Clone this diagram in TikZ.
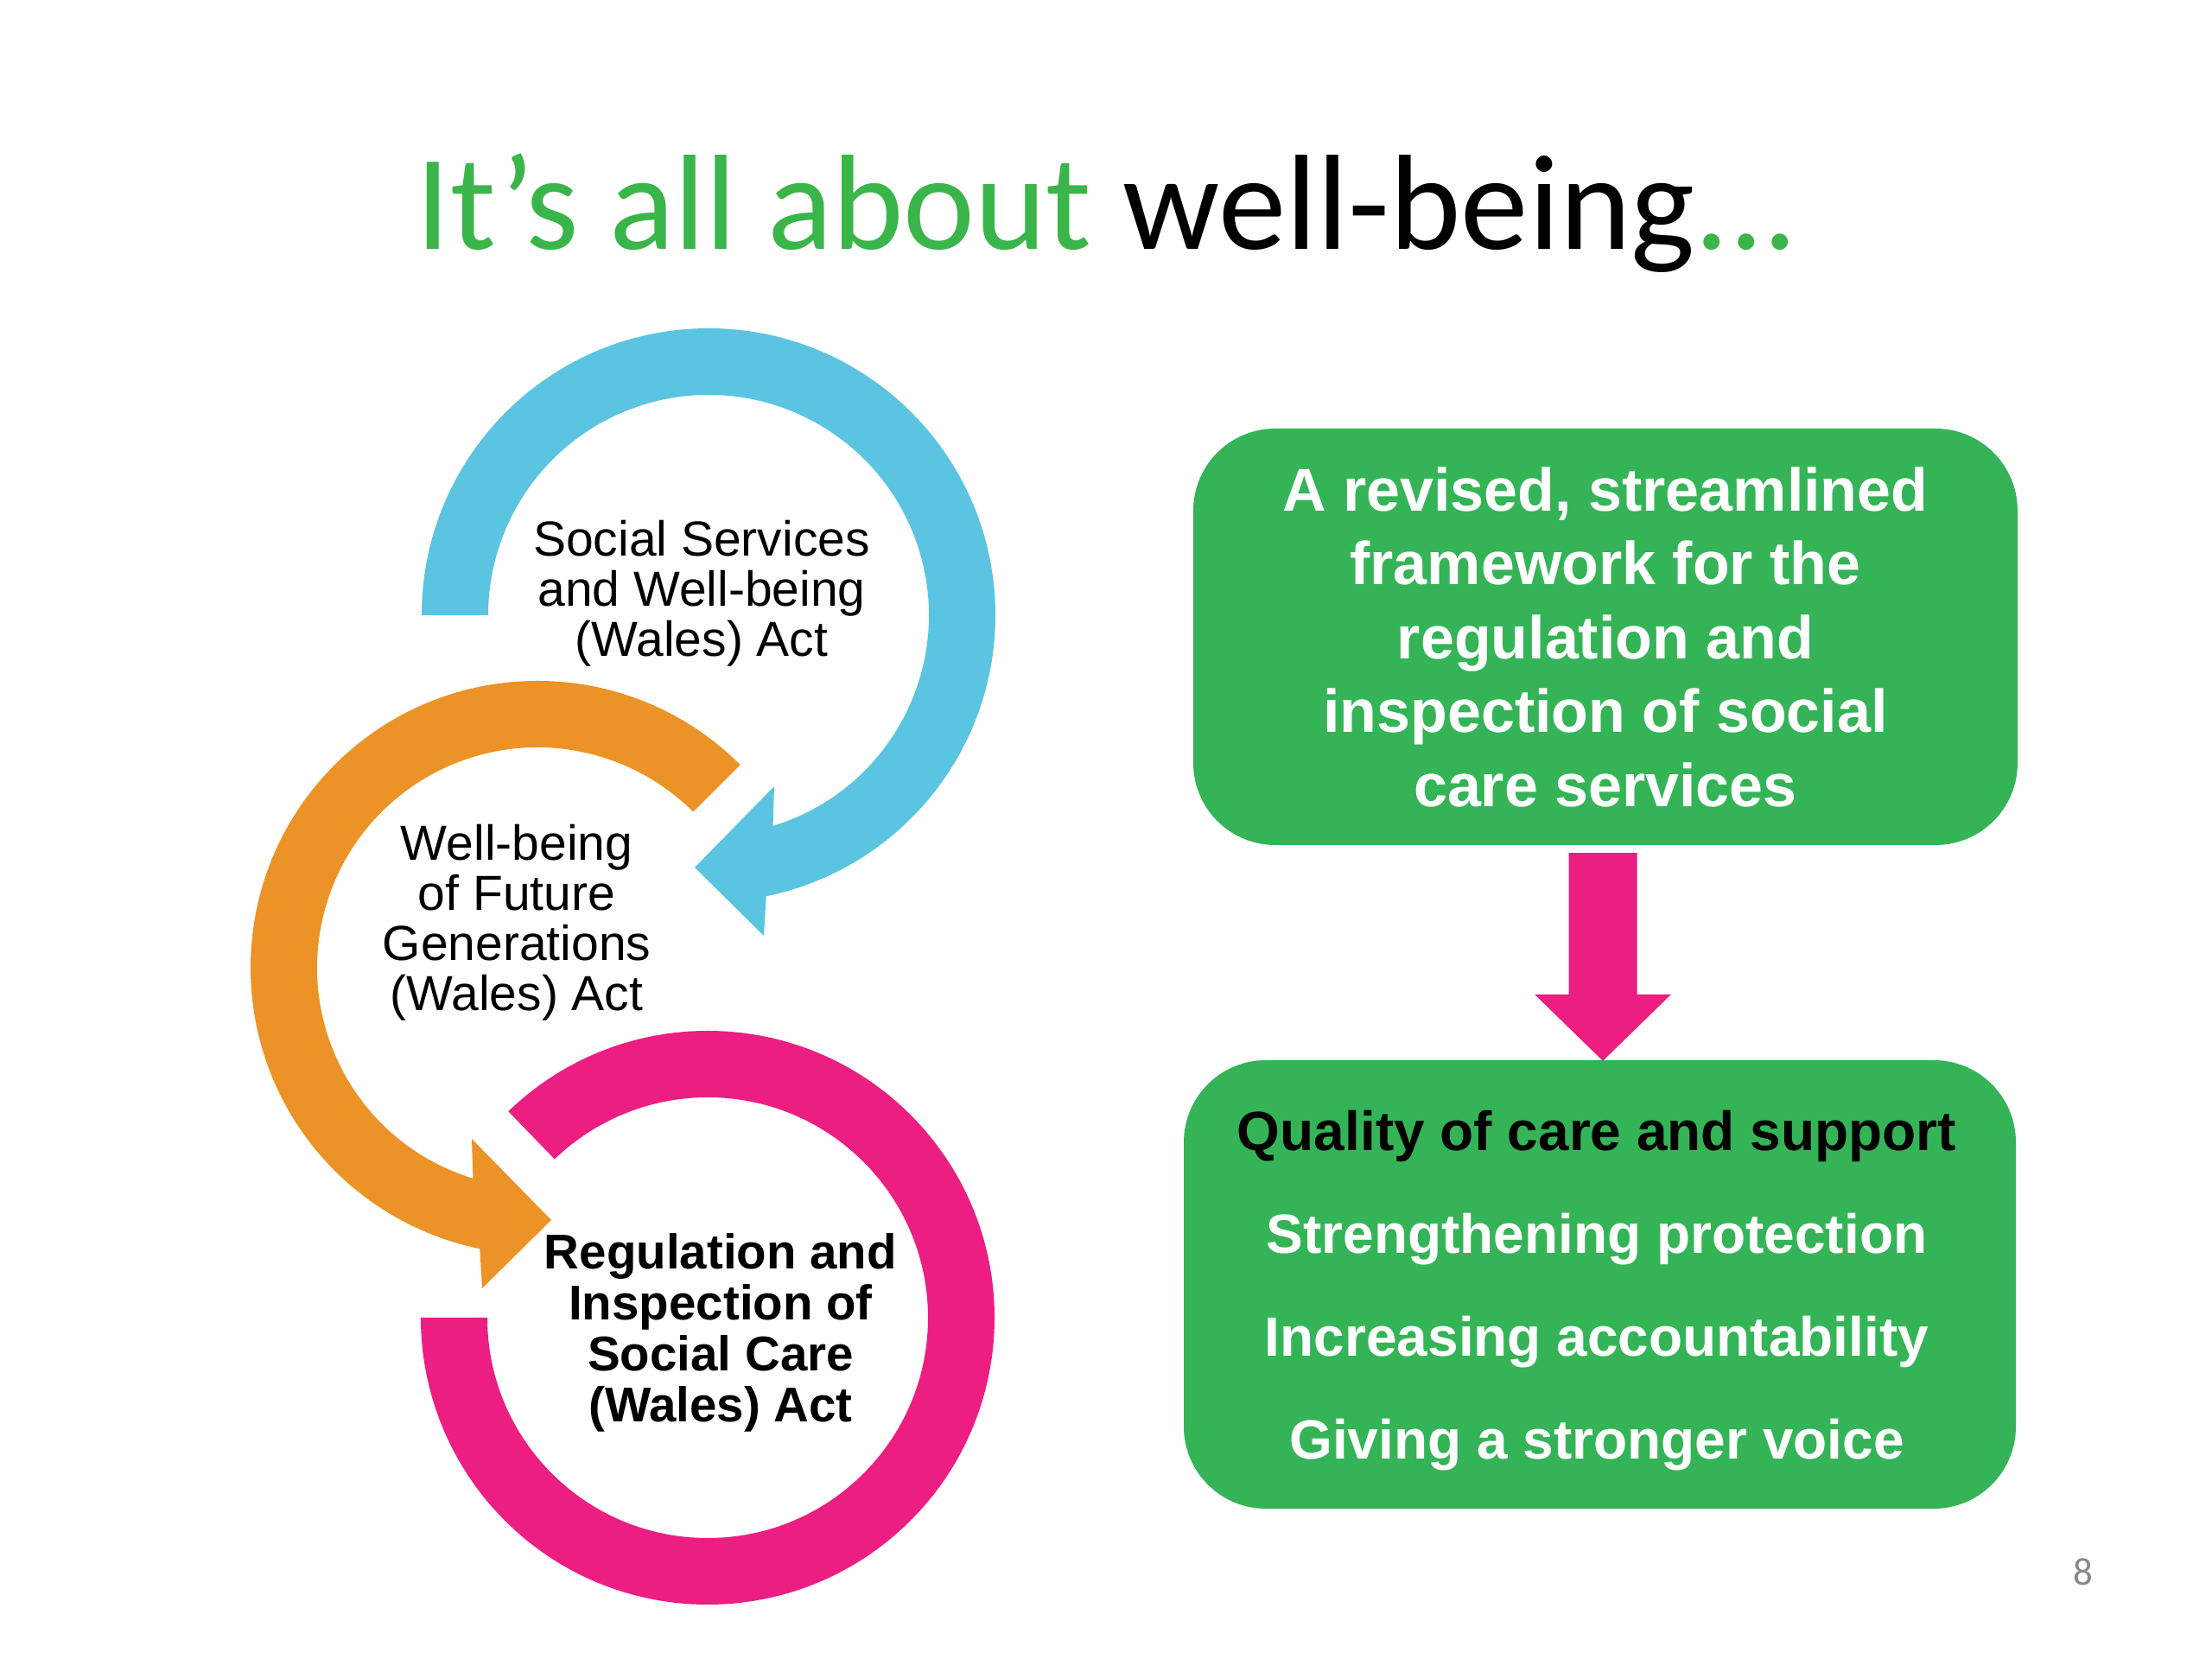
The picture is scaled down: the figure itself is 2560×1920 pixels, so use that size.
\documentclass[tikz,border=0pt]{standalone}
\usepackage{fontspec}
\setmainfont{Liberation Sans}
\newfontfamily\calibrifont{Carlito}
\usetikzlibrary{calc}
\definecolor{ringblue}{RGB}{91,197,225}
\definecolor{ringorange}{RGB}{236,147,39}
\definecolor{ringpink}{RGB}{236,30,130}
\definecolor{boxgreen}{RGB}{52,180,87}
\definecolor{titlegreen}{RGB}{58,181,74}
\definecolor{pagegray}{RGB}{137,137,137}
\begin{document}
\begin{tikzpicture}[x=1pt,y=1pt,
  ringtext/.style={align=center, inner sep=0pt, text=black, font=\fontsize{57}{58}\selectfont},
  ringtextbold/.style={align=center, inner sep=0pt, text=black, font=\bfseries\fontsize{56.5}{59}\selectfont},
  greenbox/.style={fill=boxgreen, rounded corners=95pt, inner sep=0pt, align=center}]
\useasboundingbox[fill=white] (0,0) rectangle (2560,1920);

\coordinate (cb) at (820,1208);
\coordinate (co) at (622,800);
\coordinate (cp) at (819,395);

% blue ring with arrowhead
\fill[ringblue] ($(cb)+(180:332)$) arc[start angle=180,end angle=-78.4,radius=332]
  -- ($(cb)+(64,-371)$) -- ($(cb)+(-16,-292)$) -- ($(cb)+(76,-198)$)
  -- ($(cb)+(-73:255)$) arc[start angle=-73,end angle=180,radius=255] -- cycle;
% orange ring with arrowhead
\fill[ringorange] ($(co)+(45:332)$) arc[start angle=45,end angle=258.4,radius=332]
  -- ($(co)+(-64,-371)$) -- ($(co)+(16,-292)$) -- ($(co)+(-76,-198)$)
  -- ($(co)+(253:255)$) arc[start angle=253,end angle=45,radius=255] -- cycle;
% pink ring
\fill[ringpink] ($(cp)+(134:332)$) arc[start angle=134,end angle=-180,radius=332]
  -- ($(cp)+(180:255)$) arc[start angle=-180,end angle=134,radius=255] -- cycle;

\node[ringtext] (ssw) at (812,1233) {Social Services\\and Well-being\\(Wales) Act};
\node[ringtext] (wfg) at (598,852.5) {Well-being\\of Future\\Generations\\(Wales) Act};
\node[ringtextbold] (risc) at (834,377.5) {Regulation and\\Inspection of\\Social Care\\(Wales) Act};

% title
\node[anchor=base, inner sep=0pt, font=\calibrifont\fontsize{157}{188}\selectfont] (title) at (1281,1631)
  {\textcolor{titlegreen}{It’s all about} well-being\textcolor{titlegreen}{...}};

% right boxes
\node[greenbox, minimum width=954pt, minimum height=482pt, text=white,
  font=\bfseries\fontsize{70}{85.5}\selectfont] (top) at (1858,1183)
  {A revised, streamlined\\framework for the\\regulation and\\inspection of social\\care services};
\node[greenbox, minimum width=963pt, minimum height=519pt] (bot) at (1851.5,433.5) {};
\node[align=center, inner sep=0pt, text=white, font=\bfseries\fontsize{64}{119}\selectfont] (botlist) at (1848,426)
  {\textcolor{black}{Quality of care and support}\\Strengthening protection\\Increasing accountability\\Giving a stronger voice};

% block arrow between boxes
\path (top.south) ++(-3,-9) coordinate (as);
\path (bot.north) ++(3.5,-1) coordinate (at);
\fill[ringpink] ($(as)+(-39.5,0)$) -- ($(as)+(39.5,0)$) -- ($(at)+(39.5,77)$) -- ($(at)+(79,77)$)
  -- (at) -- ($(at)+(-79,77)$) -- ($(at)+(-39.5,77)$) -- cycle;

% page number
\node[inner sep=0pt, text=pagegray, font=\calibrifont\fontsize{45}{54}\selectfont] (pg) at (2411,101) {8};
\end{tikzpicture}
\end{document}
